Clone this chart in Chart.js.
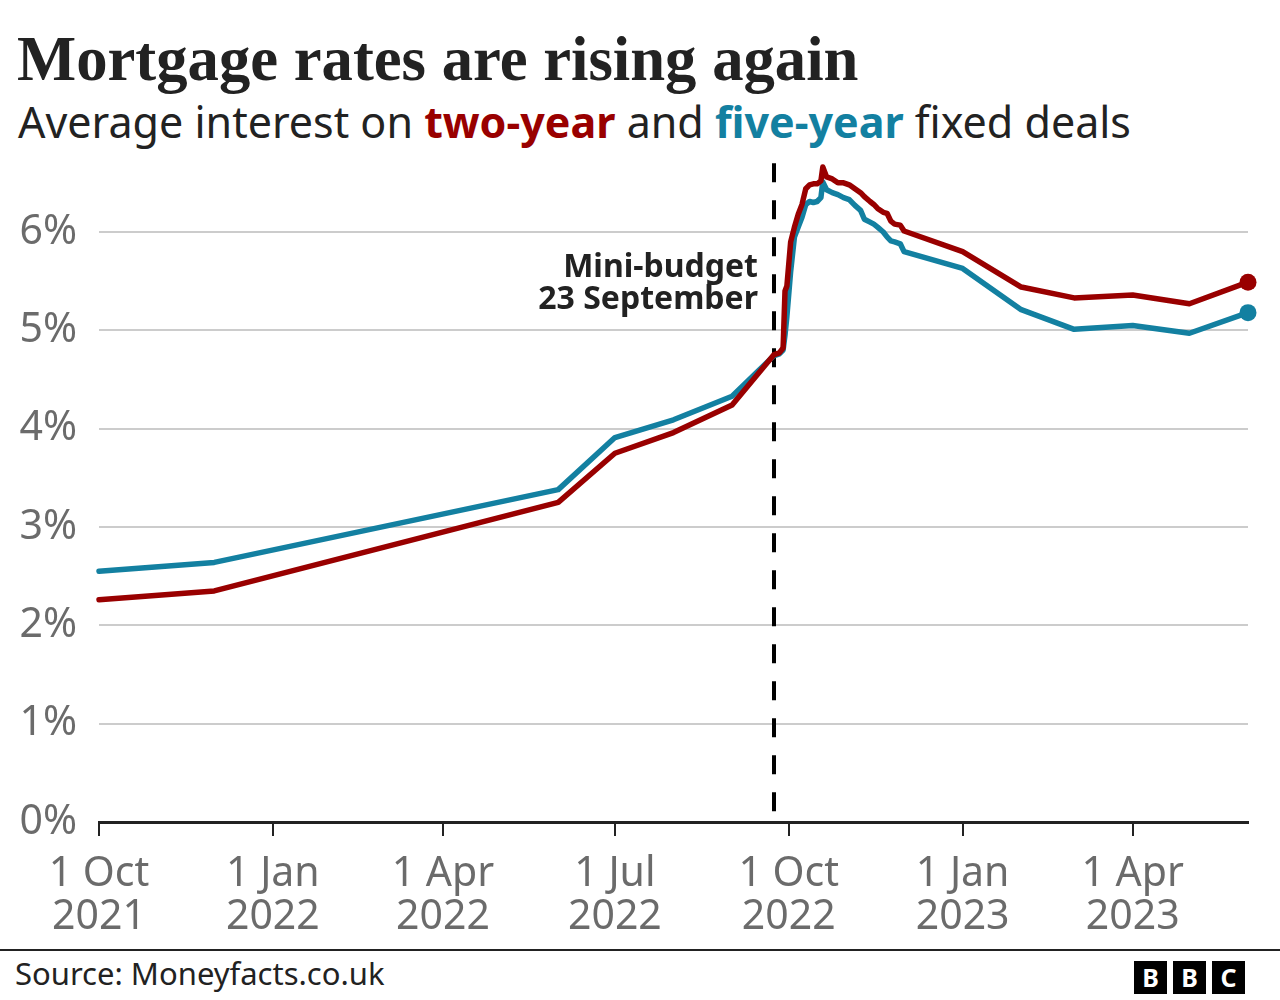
<!DOCTYPE html>
<html><head><meta charset="utf-8">
<script src="https://cdn.jsdelivr.net/npm/chart.js@4.4.0/dist/chart.umd.min.js"></script>
<style>
html,body{margin:0;padding:0;background:#fff;}
body{width:1280px;height:1000px;position:relative;overflow:hidden;font-family:"Noto Sans",sans-serif;}
#title{position:absolute;left:17px;top:28px;font-family:"Liberation Serif",serif;font-weight:bold;font-size:62.7px;line-height:62px;color:#222;white-space:nowrap;}
#subtitle{position:absolute;left:18px;top:100px;font-size:43px;line-height:43px;color:#222;white-space:nowrap;}
.two{color:#990000;font-weight:bold}
.five{color:#1380A1;font-weight:bold}
#chartWrap{position:absolute;left:0;top:140px;width:1280px;height:802px;}
#rule{position:absolute;left:0;top:949px;width:1280px;height:2px;background:#222;}
#source{position:absolute;left:15px;top:958px;font-size:31px;line-height:31px;color:#222;white-space:nowrap;}
#bbc{position:absolute;left:1134px;top:961px;display:flex;gap:6px;}
#bbc span{width:33px;height:33px;background:#000;color:#fff;font-weight:bold;font-size:25px;line-height:33px;text-align:center;display:block;}
</style></head>
<body>
<div id="title">Mortgage rates are rising again</div>
<div id="subtitle">Average interest on <span class="two">two-year</span> and <span class="five">five-year</span> fixed deals</div>
<div id="chartWrap"><canvas id="c"></canvas></div>
<div id="rule"></div>
<div id="source">Source: Moneyfacts.co.uk</div>
<div id="bbc"><span>B</span><span>B</span><span>C</span></div>
<script>
// Days since 1 Oct 2021
const days = [0, 61, 243, 273, 304, 335, 357, 360, 362, 363, 364, 366, 368, 370, 372, 374, 376, 378, 380, 382, 383, 385, 388, 391, 394, 397, 400, 403, 405, 408, 410, 412, 415, 417, 419, 421, 424, 426, 457, 488, 516, 547, 577, 608];
const twoYear = [2.26, 2.35, 3.25, 3.75, 3.96, 4.24, 4.75, 4.77, 4.82, 5.40, 5.45, 5.90, 6.05, 6.18, 6.28, 6.44, 6.48, 6.49, 6.49, 6.52, 6.66, 6.56, 6.54, 6.50, 6.50, 6.48, 6.44, 6.40, 6.36, 6.31, 6.28, 6.24, 6.20, 6.19, 6.11, 6.08, 6.07, 6.01, 5.80, 5.44, 5.33, 5.36, 5.27, 5.49];
const fiveYear = [2.55, 2.64, 3.38, 3.91, 4.09, 4.33, 4.74, 4.76, 4.80, 4.95, 5.14, 5.60, 5.95, 6.05, 6.15, 6.28, 6.31, 6.30, 6.31, 6.35, 6.51, 6.43, 6.40, 6.38, 6.35, 6.33, 6.27, 6.22, 6.13, 6.10, 6.08, 6.05, 6.00, 5.95, 5.91, 5.90, 5.88, 5.80, 5.63, 5.21, 5.01, 5.05, 4.97, 5.18];
const tickDays = [0, 92, 182, 273, 365, 457, 547];
const tickLabels = [["1 Oct","2021"],["1 Jan","2022"],["1 Apr","2022"],["1 Jul","2022"],["1 Oct","2022"],["1 Jan","2023"],["1 Apr","2023"]];
const yTicks = [0, 1, 2, 3, 4, 5, 6];
const budgetDay = [357];
const budgetLabel = ["Mini-budget", "23 September"];

const RED = '#990000', BLUE = '#1380A1';
const lastRadius = (ctx) => ctx.dataIndex === days.length - 1 ? 8.5 : 0;

const annot = {
  id: 'annot',
  beforeDatasetsDraw(chart) {
    const {ctx, scales: {x, y}} = chart;
    const px = Math.round(x.getPixelForValue(budgetDay[0]));
    const top = y.getPixelForValue(6.7), bot = y.getPixelForValue(0);
    ctx.save();
    ctx.strokeStyle = '#000'; ctx.lineWidth = 4; ctx.setLineDash([19, 18]);
    ctx.beginPath(); ctx.moveTo(px, top); ctx.lineTo(px, bot); ctx.stroke();
    ctx.setLineDash([]);
    ctx.fillStyle = '#222'; ctx.font = 'bold 32px "Noto Sans"'; ctx.textAlign = 'right'; ctx.textBaseline = 'alphabetic';
    ctx.fillText(budgetLabel[0], px - 16, top + 114);
    ctx.fillText(budgetLabel[1], px - 16, top + 146);
    ctx.restore();
  }
};

new Chart(document.getElementById('c'), {
  type: 'line',
  data: {
    datasets: [
      {label: 'Two-year', data: days.map((d, i) => ({x: d, y: twoYear[i]})), borderColor: RED, backgroundColor: RED, borderWidth: 5.5, pointRadius: lastRadius, pointBorderWidth: 0, pointBackgroundColor: RED, tension: 0, clip: false, borderJoinStyle: 'round', borderCapStyle: 'round'},
      {label: 'Five-year', data: days.map((d, i) => ({x: d, y: fiveYear[i]})), borderColor: BLUE, backgroundColor: BLUE, borderWidth: 5.5, pointRadius: lastRadius, pointBorderWidth: 0, pointBackgroundColor: BLUE, tension: 0, clip: false, borderJoinStyle: 'round', borderCapStyle: 'round'}
    ]
  },
  options: {
    responsive: true, maintainAspectRatio: false, devicePixelRatio: 1, animation: false, events: [],
    layout: {padding: {top: 13.33, right: 32, left: 0, bottom: 0}},
    plugins: {legend: {display: false}, tooltip: {enabled: false}},
    scales: {
      x: {
        type: 'linear', min: 0, max: 608,
        afterBuildTicks: s => { s.ticks = tickDays.map(v => ({value: v})); },
        afterFit: s => { s.height = 120; s.paddingLeft = 0; s.paddingRight = 0; },
        border: {display: true, color: '#222', width: 3},
        grid: {drawOnChartArea: false, drawTicks: true, tickLength: 14, color: '#222', lineWidth: 2},
        ticks: {autoSkip: false, maxRotation: 0, padding: 16, color: '#6b6b6b', font: {family: '"Noto Sans"', size: 41, lineHeight: 1.07},
          callback: (v, i) => tickLabels[i]}
      },
      y: {
        min: 0, max: 6.8,
        afterBuildTicks: s => { s.ticks = yTicks.map(v => ({value: v})); },
        afterFit: s => { s.width = 99; s.paddingTop = 0; s.paddingBottom = 0; },
        border: {display: false},
        grid: {drawTicks: false, color: '#cccccc', lineWidth: 2},
        ticks: {padding: 22, color: '#6b6b6b', font: {family: '"Noto Sans"', size: 41}, callback: v => v + '%'}
      }
    }
  },
  plugins: [annot]
});
</script>
</body></html>
